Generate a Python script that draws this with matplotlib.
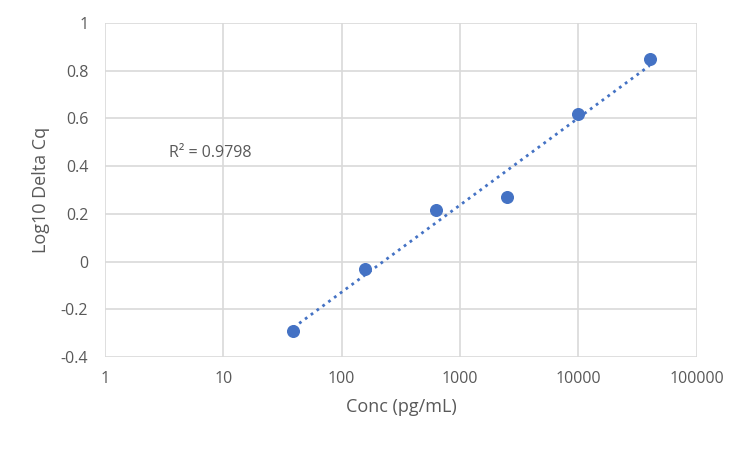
import numpy as np
import matplotlib
matplotlib.use('Agg')
import matplotlib.pyplot as plt

conc = [39.0625, 156.25, 625, 2500, 10000, 40000]
log_delta_cq = [-0.29, -0.03, 0.216, 0.271, 0.618, 0.848]
x_ticks = [1, 10, 100, 1000, 10000, 100000]
x_labels = ['1', '10', '100', '1000', '10000', '100000']
y_ticks = [-0.4, -0.2, 0, 0.2, 0.4, 0.6, 0.8, 1]
y_labels = ['-0.4', '-0.2', '0', '0.2', '0.4', '0.6', '0.8', '1']

plt.rcParams['font.family'] = ['Open Sans', 'DejaVu Sans']
grey = '#595959'
blue = '#4472C4'

fig = plt.figure(figsize=(7.5, 4.5), dpi=100)
ax = fig.add_axes([0.14, 0.2067, 0.789, 0.7423])

ax.scatter(conc, log_delta_cq, s=70, color=blue, zorder=3)

# logarithmic trendline, like Excel
lx = np.log(conc)
a, b = np.polyfit(lx, log_delta_cq, 1)
xs = np.linspace(lx.min(), lx.max(), 50)
ax.plot(np.exp(xs), a * xs + b, color=blue, linestyle=(0, (1, 1.6)), linewidth=2, zorder=2)

ax.text(3.5, 0.455, 'R² = 0.9798', fontsize=11.5, color=grey, va='center')

ax.set_xscale('log')
ax.set_xlim(1, 100000)
ax.set_ylim(-0.4, 1)
ax.set_xticks(x_ticks)
ax.set_xticklabels(x_labels)
ax.minorticks_off()
ax.set_yticks(y_ticks)
ax.set_yticklabels(y_labels)
ax.grid(True, color='#D9D9D9', linewidth=1.2)
ax.set_axisbelow(True)
for s in ax.spines.values():
    s.set_visible(False)
ax.tick_params(length=0, labelsize=11.5, labelcolor=grey)
ax.tick_params(axis='x', pad=10)
ax.tick_params(axis='y', pad=12)

ax.set_xlabel('Conc (pg/mL)', fontsize=13, color=grey, labelpad=8)
ax.set_ylabel('Log10 Delta Cq', fontsize=13, color=grey, labelpad=8)

fig.savefig('out.png', dpi=100)
